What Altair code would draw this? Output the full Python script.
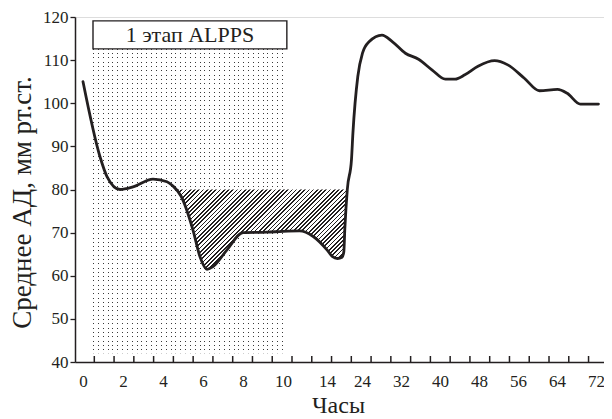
import altair as alt
import numpy as np
import pandas as pd

# ---- data ----
HOURS = [0, 0.85, 1.2, 1.85, 2.5, 3.5, 4.2, 4.5, 4.9, 5.5,
         5.85, 6.2, 6.5, 7.2, 8.0, 9.2, 10.0, 11.5, 12.75, 14.0,
         15.5, 17.0, 18.3, 18.8, 19.1, 19.8, 21.0, 21.4, 22.8, 24.1,
         25.5, 28.1, 30.2, 32.9, 35.6, 38.4, 41.1, 43.1, 45.1, 47.8,
         51.2, 53.9, 57.3, 60.4, 64.1, 66.1, 68.8, 72.5]
MAP = [105.0, 87.6, 83.0, 80.0, 80.6, 82.4, 81.8, 80.8, 78.5, 70.6,
       64.4, 61.5, 62.1, 66.0, 70.0, 70.1, 70.3, 70.4, 69.1, 66.0,
       64.5, 64.0, 64.3, 65.5, 71.0, 80.0, 87.0, 93.0, 106.2, 111.6,
       114.3, 115.8, 114.3, 111.6, 110.2, 107.7, 105.6, 105.6, 106.6, 108.6,
       109.9, 108.9, 105.8, 102.9, 103.2, 102.3, 99.8, 99.8]
LABEL_HOURS = [0, 2, 4, 6, 8, 10, 14, 24, 32, 40, 48, 56, 64, 72]
Y_TICKS = [40, 50, 60, 70, 80, 90, 100, 110, 120]
THRESHOLD = 80
HATCH_FROM, HATCH_TO = 4.5, 19.8
STAGE_FROM, STAGE_TO = 0.5, 10.35
STAGE_FLOOR = 42
STAGE_BOX = [112.6, 119.1]
STAGE_LABEL = "1 этап ALPPS"
X_TITLE = "Часы"
Y_TITLE = "Среднее АД, мм рт.ст."

# ---- layout / style ----
W, H = 529, 345
INK = "#231f20"
CLEAR = "rgba(255,255,255,0)"
SERIF = "Liberation Serif, Times New Roman, serif"
X_DOMAIN = [-0.4, 10, 14, 24, 73.64]
X_RANGE = [0, 208, 252, 287, 529]
Y_DOMAIN = [40, 120]
TICK_LEN = 6
TICK_STEP_PX = 19.77
TICK_FIRST_PX = 19.3


def xpx(h):
    return float(np.interp(h, X_DOMAIN, X_RANGE))


def ypx(v):
    return (Y_DOMAIN[1] - v) * H / (Y_DOMAIN[1] - Y_DOMAIN[0])


def stripes(n, frac, c_on, c_off, x2, y2):
    stops = []
    for i in range(n):
        s = round(i / n, 6)
        e = round((i + frac) / n, 6)
        t = min(round((i + 1) / n, 6), 1.0)
        stops += [{"offset": s, "color": c_on}, {"offset": e, "color": c_on},
                  {"offset": e, "color": c_off}, {"offset": t, "color": c_off}]
    return {"gradient": "linear", "x1": 0, "y1": 0, "x2": x2, "y2": y2, "stops": stops}


tick_px = [TICK_FIRST_PX + TICK_STEP_PX * k for k in range(40)
           if TICK_FIRST_PX + TICK_STEP_PX * k <= W - 1]
TICK_HOURS = [round(float(np.interp(p, X_RANGE, X_DOMAIN)), 4) for p in tick_px]

# ---- tables ----
df = pd.DataFrame({"h": HOURS, "v": MAP})
ticks_df = pd.DataFrame({"t": TICK_HOURS})
ticks_df["y0"] = float(Y_DOMAIN[0])
ticks_df["y1"] = Y_DOMAIN[0] + TICK_LEN * (Y_DOMAIN[1] - Y_DOMAIN[0]) / H

# hatch: region between the threshold and the curve where the curve is below it
hrows = []
for i in range(len(HOURS)):
    h, v = HOURS[i], MAP[i]
    if i > 0:
        h0, v0 = HOURS[i - 1], MAP[i - 1]
        if (v0 - THRESHOLD) * (v - THRESHOLD) < 0:
            hc = h0 + (THRESHOLD - v0) * (h - h0) / (v - v0)
            if HATCH_FROM <= hc <= HATCH_TO:
                hrows.append((hc, THRESHOLD))
    if HATCH_FROM <= h <= HATCH_TO:
        hrows.append((h, min(v, THRESHOLD)))
hatch = pd.DataFrame(hrows, columns=["h", "lo"])
first_cross = hatch[hatch["lo"] == THRESHOLD]["h"].min()
hatch = hatch[hatch["h"] >= first_cross].copy()
hatch["hi"] = THRESHOLD

mid_px = (xpx(STAGE_FROM) + xpx(STAGE_TO)) / 2
stage = pd.DataFrame({"a": [STAGE_FROM], "b": [STAGE_TO], "floor": [STAGE_FLOOR],
                      "top": [STAGE_BOX[0]], "btop": [STAGE_BOX[1]],
                      "label": [STAGE_LABEL],
                      "mid_h": [float(np.interp(mid_px, X_RANGE, X_DOMAIN))],
                      "mid_v": [(STAGE_BOX[0] + STAGE_BOX[1]) / 2]})

xscale = alt.Scale(domain=X_DOMAIN, range=X_RANGE, nice=False, zero=False)
yscale = alt.Scale(domain=Y_DOMAIN, nice=False, zero=False)

# gradients sized from the pixel extents
dw = xpx(STAGE_TO) - xpx(STAGE_FROM)
dh = ypx(STAGE_FLOOR) - ypx(STAGE_BOX[0])
vert = stripes(int(round(dw / 4.8)), 1.0 / 4.8, "#3a3a3a", "white", 1, 0)
horiz = stripes(int(round(dh / 4.3)), 1.0 / 4.3, CLEAR, "white", 0, 1)

hw = xpx(HATCH_TO) - xpx(float(first_cross))
hh = ypx(min(MAP)) - ypx(THRESHOLD)
r = hh / hw
a = (1 + r) / (1 + r * r)
nh = int(round((hw + hh) / np.sqrt(2) / 3.0))
hatch_fill = stripes(nh, 0.4, INK, "white", a, a * r)

X_AXIS = alt.Axis(
    orient="bottom", values=LABEL_HOURS, ticks=False, domain=True,
    domainColor=INK, domainWidth=1.5, labelFont=SERIF, labelFontSize=17,
    labelColor=INK, labelPadding=11, labelFlush=False, labelOverlap=False,
    grid=False, format="d", title=X_TITLE, titleFont=SERIF, titleFontSize=24,
    titleFontWeight="normal", titleColor=INK, titleX=263, titleY=31,
    titleBaseline="top")
Y_AXIS = alt.Axis(
    orient="left", values=Y_TICKS, tickSize=5, tickColor=INK, tickWidth=1.3,
    domainColor=INK, domainWidth=1.5, labelFont=SERIF, labelFontSize=17,
    labelColor=INK, labelPadding=2, labelFlush=False, labelOverlap=False,
    grid=False, title=Y_TITLE, titleFont=SERIF, titleFontSize=27,
    titleFontWeight="normal", titleColor=INK, titleX=-53, titleY=185,
    titleBaseline="middle", titleAlign="center", titleAngle=270)

base = alt.Chart(stage)

dots_a = base.mark_rect(fill=vert, strokeWidth=0).encode(
    x=alt.X("a:Q", scale=xscale, axis=X_AXIS), x2="b:Q",
    y=alt.Y("floor:Q", scale=yscale, axis=Y_AXIS), y2="top:Q")
dots_b = base.mark_rect(fill=horiz, strokeWidth=0).encode(
    x=alt.X("a:Q"), x2="b:Q", y=alt.Y("floor:Q"), y2="top:Q")

hatch_layer = alt.Chart(hatch).mark_area(fill=hatch_fill, interpolate="monotone").encode(
    x=alt.X("h:Q"), y=alt.Y("lo:Q"), y2="hi:Q")

box = base.mark_rect(fill="white", stroke=INK, strokeWidth=1.4).encode(
    x=alt.X("a:Q"), x2="b:Q", y=alt.Y("top:Q"), y2="btop:Q")

box_text = base.mark_text(font=SERIF, fontSize=22, color=INK, baseline="middle",
                          align="center").encode(
    x=alt.X("mid_h:Q"), y=alt.Y("mid_v:Q"), text="label:N")

line = alt.Chart(df).mark_line(color=INK, strokeWidth=2.8, interpolate="monotone",
                               strokeCap="round", strokeJoin="round").encode(
    x=alt.X("h:Q"), y=alt.Y("v:Q"))

tick_marks = alt.Chart(ticks_df).mark_rule(color=INK, strokeWidth=1.5).encode(
    x=alt.X("t:Q"), y=alt.Y("y0:Q"), y2="y1:Q")

chart = alt.layer(dots_a, dots_b, hatch_layer, box, box_text, line, tick_marks).properties(
    width=W, height=H,
    autosize=alt.AutoSizeParams(type="none"),
    padding={"left": 67, "top": 9, "right": 0, "bottom": 53},
).configure_view(stroke=None).configure(background="white")

chart.save("out.html", embed_options={"renderer": "svg", "actions": False})
